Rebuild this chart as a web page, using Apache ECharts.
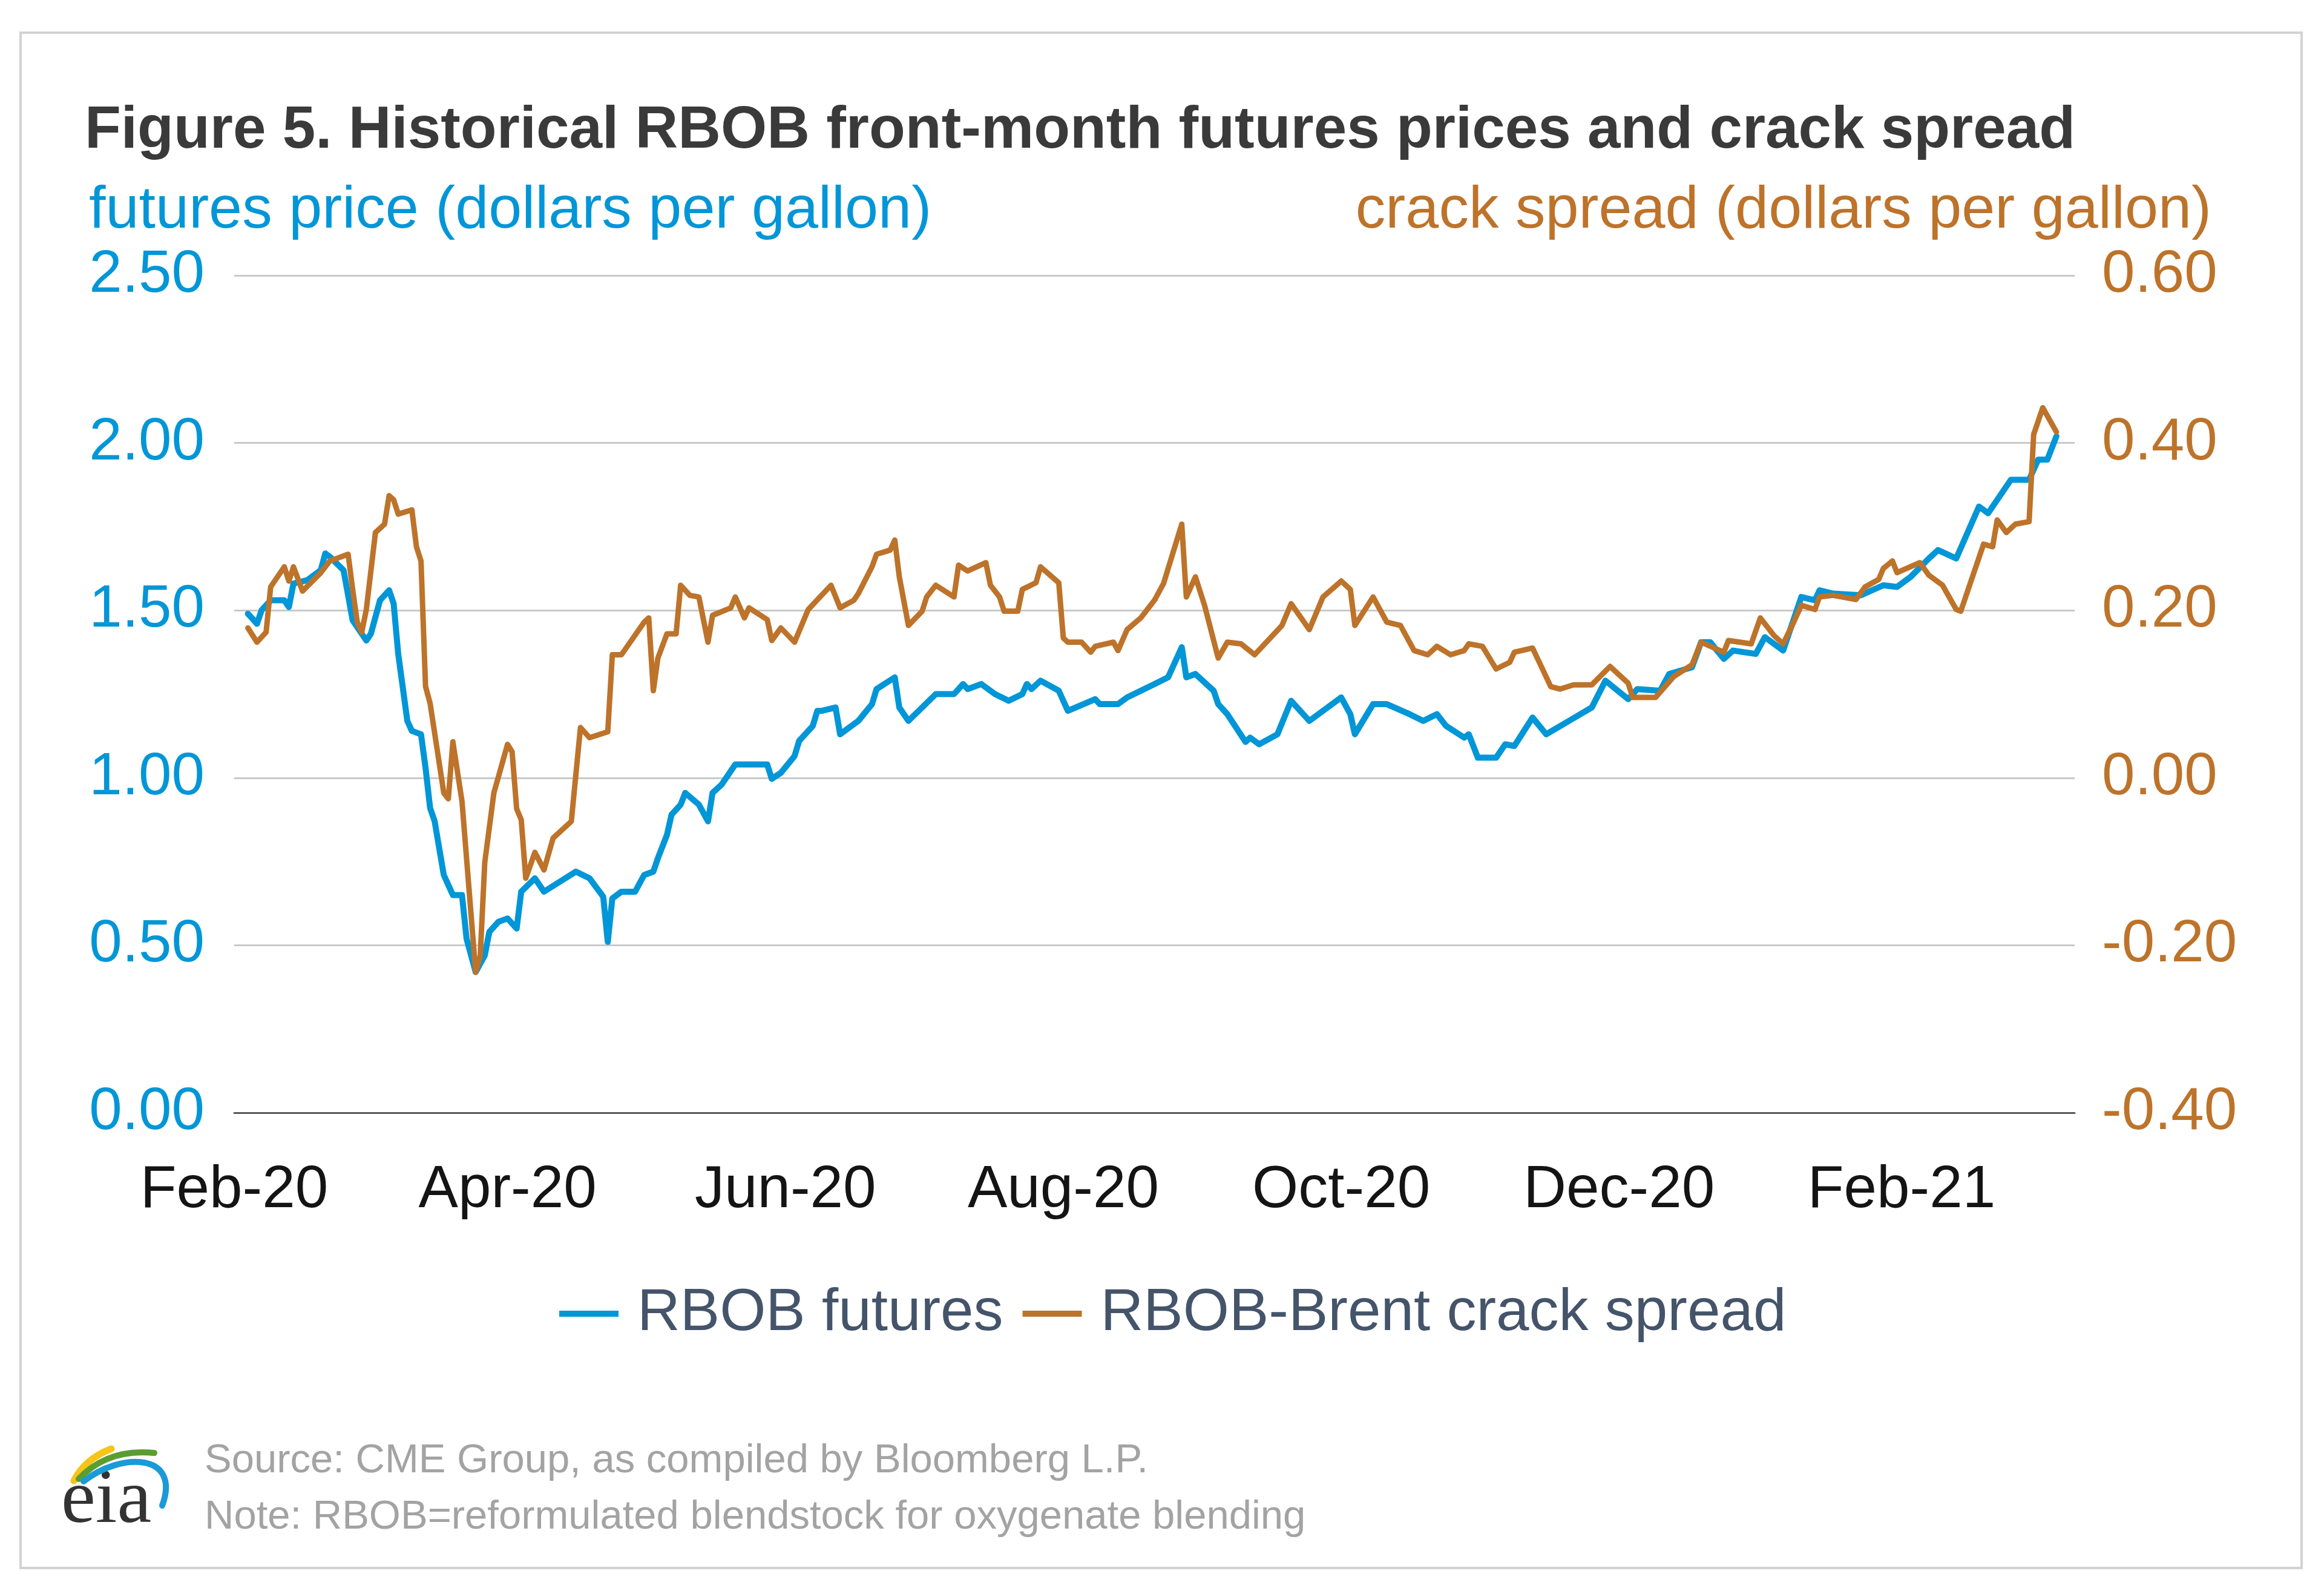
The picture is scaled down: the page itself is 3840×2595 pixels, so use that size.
<!DOCTYPE html>
<html><head><meta charset="utf-8">
<script src="https://cdn.jsdelivr.net/npm/echarts@6/dist/echarts.min.js"></script>
<style>html,body{margin:0;padding:0;background:#fff}#chart{width:3840px;height:2595px}</style>
</head><body><div id="chart"></div>
<script>
// ---- data ----
const axisStart = '2020-02-01';
const axisEnd = '2021-03-11';
const monthNames = ['Jan','Feb','Mar','Apr','May','Jun','Jul','Aug','Sep','Oct','Nov','Dec'];
const labelMonths = [1, 3, 5, 7, 9, 11]; // Feb, Apr, Jun, Aug, Oct, Dec (0-based)

const rbobDates = ['2020-02-04','2020-02-06','2020-02-07','2020-02-09','2020-02-12','2020-02-13','2020-02-14','2020-02-17','2020-02-20','2020-02-21','2020-02-22','2020-02-25','2020-02-27','2020-03-01','2020-03-02','2020-03-04','2020-03-06','2020-03-07','2020-03-08','2020-03-10','2020-03-11','2020-03-13','2020-03-14','2020-03-15','2020-03-16','2020-03-18','2020-03-19','2020-03-20','2020-03-22','2020-03-23','2020-03-25','2020-03-27','2020-03-28','2020-03-30','2020-04-01','2020-04-03','2020-04-04','2020-04-07','2020-04-09','2020-04-16','2020-04-19','2020-04-22','2020-04-23','2020-04-24','2020-04-26','2020-04-29','2020-05-01','2020-05-03','2020-05-04','2020-05-06','2020-05-07','2020-05-09','2020-05-10','2020-05-13','2020-05-15','2020-05-16','2020-05-18','2020-05-21','2020-05-25','2020-05-28','2020-05-29','2020-05-31','2020-06-03','2020-06-04','2020-06-07','2020-06-08','2020-06-09','2020-06-12','2020-06-13','2020-06-16','2020-06-17','2020-06-20','2020-06-21','2020-06-25','2020-06-26','2020-06-28','2020-07-04','2020-07-08','2020-07-10','2020-07-11','2020-07-14','2020-07-17','2020-07-20','2020-07-23','2020-07-24','2020-07-25','2020-07-27','2020-07-31','2020-08-02','2020-08-08','2020-08-09','2020-08-13','2020-08-15','2020-08-21','2020-08-24','2020-08-27','2020-08-28','2020-08-30','2020-09-03','2020-09-04','2020-09-06','2020-09-10','2020-09-11','2020-09-13','2020-09-17','2020-09-20','2020-09-24','2020-10-01','2020-10-03','2020-10-04','2020-10-08','2020-10-09','2020-10-11','2020-10-16','2020-10-19','2020-10-22','2020-10-24','2020-10-28','2020-10-29','2020-10-31','2020-11-04','2020-11-06','2020-11-08','2020-11-12','2020-11-15','2020-11-20','2020-11-25','2020-11-28','2020-12-03','2020-12-05','2020-12-10','2020-12-12','2020-12-17','2020-12-19','2020-12-21','2020-12-24','2020-12-26','2020-12-31','2021-01-02','2021-01-06','2021-01-10','2021-01-13','2021-01-14','2021-01-17','2021-01-23','2021-01-28','2021-01-31','2021-02-03','2021-02-07','2021-02-09','2021-02-13','2021-02-18','2021-02-20','2021-02-25','2021-03-01','2021-03-03','2021-03-05','2021-03-07'];
const rbobPrice = [1.49,1.46,1.50,1.53,1.53,1.51,1.58,1.59,1.62,1.67,1.66,1.62,1.47,1.41,1.43,1.53,1.56,1.52,1.37,1.17,1.14,1.13,1.03,0.91,0.87,0.71,0.68,0.65,0.65,0.52,0.42,0.47,0.54,0.57,0.58,0.55,0.66,0.70,0.66,0.72,0.70,0.645,0.51,0.64,0.66,0.66,0.71,0.72,0.76,0.83,0.89,0.92,0.955,0.92,0.87,0.955,0.98,1.04,1.04,1.04,0.997,1.015,1.065,1.11,1.155,1.20,1.20,1.21,1.13,1.16,1.17,1.22,1.265,1.30,1.21,1.17,1.25,1.25,1.28,1.265,1.28,1.25,1.23,1.25,1.28,1.265,1.29,1.26,1.20,1.235,1.22,1.22,1.24,1.28,1.30,1.39,1.30,1.31,1.26,1.22,1.19,1.107,1.12,1.10,1.13,1.23,1.17,1.24,1.19,1.13,1.22,1.22,1.22,1.19,1.17,1.19,1.155,1.12,1.13,1.06,1.06,1.10,1.095,1.18,1.13,1.17,1.21,1.29,1.235,1.265,1.26,1.31,1.33,1.405,1.405,1.355,1.38,1.37,1.42,1.38,1.54,1.53,1.56,1.55,1.545,1.575,1.57,1.60,1.655,1.68,1.655,1.81,1.79,1.89,1.89,1.95,1.95,2.02];

const crackDates = ['2020-02-04','2020-02-06','2020-02-08','2020-02-09','2020-02-12','2020-02-13','2020-02-14','2020-02-16','2020-02-20','2020-02-22','2020-02-26','2020-02-27','2020-02-28','2020-02-29','2020-03-01','2020-03-03','2020-03-05','2020-03-06','2020-03-07','2020-03-08','2020-03-11','2020-03-12','2020-03-13','2020-03-14','2020-03-15','2020-03-18','2020-03-19','2020-03-20','2020-03-22','2020-03-25','2020-03-26','2020-03-27','2020-03-29','2020-04-01','2020-04-02','2020-04-03','2020-04-04','2020-04-05','2020-04-07','2020-04-09','2020-04-11','2020-04-15','2020-04-17','2020-04-19','2020-04-23','2020-04-24','2020-04-26','2020-05-01','2020-05-02','2020-05-03','2020-05-04','2020-05-06','2020-05-08','2020-05-09','2020-05-11','2020-05-13','2020-05-15','2020-05-16','2020-05-20','2020-05-21','2020-05-23','2020-05-24','2020-05-28','2020-05-29','2020-05-31','2020-06-03','2020-06-06','2020-06-11','2020-06-13','2020-06-16','2020-06-17','2020-06-20','2020-06-21','2020-06-24','2020-06-25','2020-06-26','2020-06-28','2020-07-01','2020-07-02','2020-07-04','2020-07-08','2020-07-09','2020-07-11','2020-07-15','2020-07-16','2020-07-18','2020-07-19','2020-07-22','2020-07-23','2020-07-26','2020-07-27','2020-07-31','2020-08-01','2020-08-02','2020-08-05','2020-08-07','2020-08-08','2020-08-12','2020-08-13','2020-08-15','2020-08-18','2020-08-21','2020-08-23','2020-08-27','2020-08-28','2020-08-30','2020-09-01','2020-09-04','2020-09-06','2020-09-09','2020-09-12','2020-09-18','2020-09-20','2020-09-24','2020-09-27','2020-10-01','2020-10-03','2020-10-04','2020-10-08','2020-10-11','2020-10-14','2020-10-17','2020-10-20','2020-10-22','2020-10-25','2020-10-28','2020-10-29','2020-11-01','2020-11-04','2020-11-07','2020-11-08','2020-11-12','2020-11-16','2020-11-18','2020-11-21','2020-11-25','2020-11-29','2020-12-03','2020-12-04','2020-12-09','2020-12-13','2020-12-17','2020-12-19','2020-12-24','2020-12-25','2020-12-30','2021-01-01','2021-01-04','2021-01-06','2021-01-08','2021-01-10','2021-01-13','2021-01-14','2021-01-17','2021-01-22','2021-01-24','2021-01-27','2021-01-28','2021-01-30','2021-01-31','2021-02-05','2021-02-07','2021-02-10','2021-02-13','2021-02-14','2021-02-19','2021-02-21','2021-02-22','2021-02-24','2021-02-26','2021-03-01','2021-03-02','2021-03-04','2021-03-07'];
const crackSpread = [0.179,0.162,0.174,0.228,0.252,0.235,0.252,0.223,0.245,0.259,0.267,0.225,0.186,0.174,0.201,0.293,0.303,0.337,0.332,0.315,0.320,0.276,0.259,0.109,0.089,-0.018,-0.025,0.043,-0.028,-0.232,-0.213,-0.101,-0.018,0.040,0.031,-0.037,-0.050,-0.120,-0.089,-0.110,-0.072,-0.052,0.060,0.048,0.055,0.147,0.147,0.186,0.191,0.104,0.143,0.172,0.172,0.230,0.218,0.216,0.162,0.194,0.203,0.216,0.191,0.203,0.189,0.164,0.179,0.162,0.201,0.230,0.203,0.212,0.220,0.252,0.267,0.272,0.284,0.240,0.182,0.199,0.216,0.230,0.216,0.254,0.247,0.257,0.230,0.216,0.199,0.199,0.225,0.233,0.252,0.233,0.167,0.162,0.162,0.150,0.157,0.162,0.152,0.177,0.191,0.212,0.232,0.303,0.216,0.240,0.206,0.143,0.162,0.160,0.147,0.182,0.208,0.177,0.216,0.235,0.225,0.182,0.216,0.186,0.182,0.152,0.147,0.157,0.147,0.152,0.160,0.157,0.130,0.138,0.150,0.155,0.109,0.106,0.111,0.111,0.133,0.113,0.096,0.096,0.121,0.135,0.162,0.150,0.164,0.160,0.191,0.170,0.160,0.182,0.206,0.201,0.216,0.218,0.213,0.228,0.237,0.250,0.259,0.245,0.257,0.242,0.230,0.201,0.199,0.279,0.276,0.308,0.293,0.303,0.306,0.410,0.442,0.413];

const leftAxis = {min: 0, max: 2.5, step: 0.5};
const rightAxis = {min: -0.4, max: 0.6, step: 0.2};

// ---- build daily category axis ----
const categories = [];
for (let t = Date.parse(axisStart + 'T00:00:00Z'); t <= Date.parse(axisEnd + 'T00:00:00Z'); t += 86400000) {
  categories.push(new Date(t).toISOString().slice(0, 10));
}
const FONT = '"Liberation Sans", Arial, Helvetica, sans-serif';
const BLUE = '#0096d7', BROWN = '#bd732a';

const chart = echarts.init(document.getElementById('chart'), null, {renderer: 'canvas'});
chart.setOption({
  animation: false,
  backgroundColor: '#ffffff',
  grid: {left: 387, right: 412, top: 455, bottom: 757, containLabel: false, outerBoundsMode: 'none'},
  legend: {
    left: 919, top: 2116, icon: 'rect', itemWidth: 98, itemHeight: 10, itemGap: 32,
    textStyle: {fontFamily: FONT, fontSize: 98, color: '#44546a', padding: [0, 0, 0, 26]},
    data: ['RBOB futures', 'RBOB-Brent crack spread']
  },
  xAxis: {
    type: 'category', data: categories, boundaryGap: false,
    axisLine: {show: true, lineStyle: {color: '#595959', width: 3}},
    axisTick: {show: false},
    splitLine: {show: false},
    axisLabel: {
      interval: (i, v) => v.slice(8) === '01' && labelMonths.includes(+v.slice(5, 7) - 1),
      formatter: v => monthNames[+v.slice(5, 7) - 1] + '-' + v.slice(2, 4),
      fontFamily: FONT, fontSize: 98, color: '#141414', margin: 80
    }
  },
  yAxis: [{
    type: 'value', position: 'left', min: leftAxis.min, max: leftAxis.max, interval: leftAxis.step,
    axisLine: {show: false}, axisTick: {show: false},
    splitLine: {show: true, lineStyle: {color: '#c9c9c9', width: 3}},
    axisLabel: {formatter: v => v.toFixed(2), fontFamily: FONT, fontSize: 98, color: BLUE, margin: 49,
      padding: [22, 0, 0, 0]}
  }, {
    type: 'value', position: 'right', min: rightAxis.min, max: rightAxis.max, interval: rightAxis.step,
    axisLine: {show: false}, axisTick: {show: false}, splitLine: {show: false},
    axisLabel: {formatter: v => (Math.abs(v) < 1e-9 ? 0 : v).toFixed(2), fontFamily: FONT, fontSize: 98, color: BROWN, margin: 45,
      padding: [22, 0, 0, 0]}
  }],
  series: [{
    name: 'RBOB futures', type: 'line', yAxisIndex: 0, showSymbol: false, symbol: 'none',
    connectNulls: true, color: BLUE,
    lineStyle: {color: BLUE, width: 10, join: 'round', cap: 'round'},
    data: rbobDates.map((d, i) => [d, rbobPrice[i]])
  }, {
    name: 'RBOB-Brent crack spread', type: 'line', yAxisIndex: 1, showSymbol: false, symbol: 'none',
    connectNulls: true, color: BROWN,
    lineStyle: {color: BROWN, width: 9, join: 'round', cap: 'round'},
    data: crackDates.map((d, i) => [d, crackSpread[i]])
  }],
  graphic: [
    {type: 'rect', z: -10, shape: {x: 34, y: 54, width: 3769, height: 2536},
     style: {fill: 'none', stroke: '#d2d2d2', lineWidth: 4}},
    {type: 'text', x: 140, y: 217, style: {text: 'Figure 5. Historical RBOB front-month futures prices and crack spread',
      fontFamily: FONT, fontWeight: 'bold', fontSize: 98, fill: '#3a3a3a', align: 'left', verticalAlign: 'middle'}},
    {type: 'text', x: 147, y: 349, style: {text: 'futures price (dollars per gallon)',
      fontFamily: FONT, fontSize: 99, fill: BLUE, align: 'left', verticalAlign: 'middle'}},
    {type: 'text', x: 3654, y: 349, style: {text: 'crack spread (dollars per gallon)',
      fontFamily: FONT, fontSize: 99, fill: BROWN, align: 'right', verticalAlign: 'middle'}},
    {type: 'text', x: 338, y: 2414, style: {text: 'Source: CME Group, as compiled by Bloomberg L.P.',
      fontFamily: FONT, fontSize: 67, fill: '#a3a3a3', align: 'left', verticalAlign: 'middle'}},
    {type: 'text', x: 338, y: 2507, style: {text: 'Note: RBOB=reformulated blendstock for oxygenate blending',
      fontFamily: FONT, fontSize: 67, fill: '#a3a3a3', align: 'left', verticalAlign: 'middle'}},
    {type: 'text', x: 101, y: 2480, style: {text: 'eia', fontFamily: '"Liberation Serif", "Times New Roman", serif',
      fontSize: 128, fill: '#333333', align: 'left', verticalAlign: 'middle'}},
    {type: 'bezierCurve', shape: {x1: 122, y1: 2446, x2: 184, y2: 2393, cpx1: 140, cpy1: 2410},
     style: {stroke: '#f5c518', lineWidth: 11, fill: 'none', lineCap: 'round'}},
    {type: 'bezierCurve', shape: {x1: 130, y1: 2443, x2: 255, y2: 2400, cpx1: 178, cpy1: 2392},
     style: {stroke: '#5a9e32', lineWidth: 10, fill: 'none', lineCap: 'round'}},
    {type: 'bezierCurve', shape: {x1: 138, y1: 2447, x2: 268, y2: 2487, cpx1: 200, cpy1: 2398, cpx2: 300, cpy2: 2400},
     style: {stroke: '#1a9ad9', lineWidth: 10, fill: 'none', lineCap: 'round'}}
  ]
});
</script>
</body></html>
